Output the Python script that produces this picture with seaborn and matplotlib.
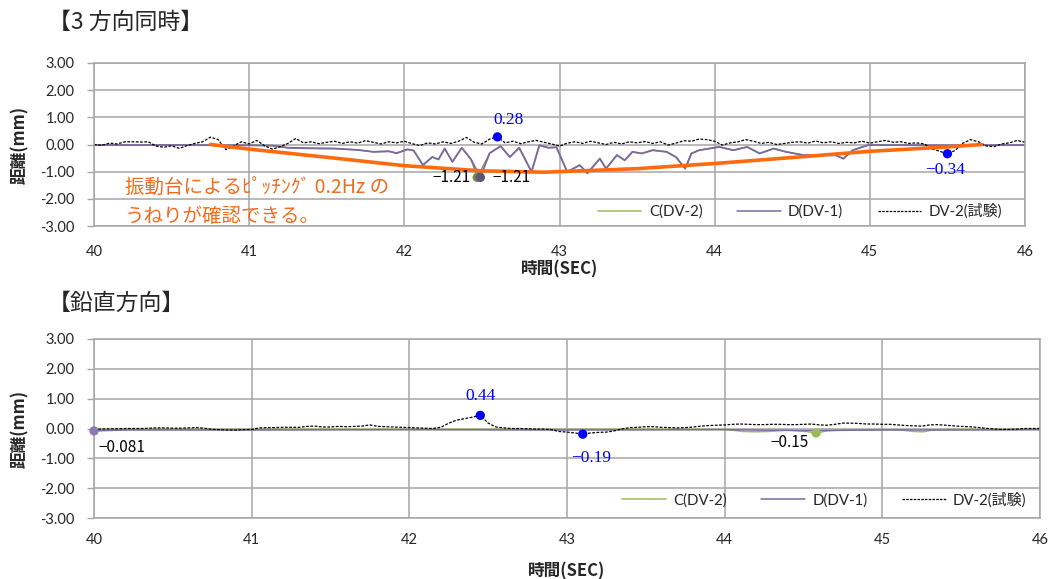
import numpy as np
import pandas as pd
import seaborn as sns
import matplotlib.pyplot as plt
from matplotlib.lines import Line2D

# ---------------- data ----------------
x_ticks = [40, 41, 42, 43, 44, 45, 46]
y_ticks = [-3, -2, -1, 0, 1, 2, 3]
y_tick_labels = ["-3.00", "-2.00", "-1.00", "0.00", "1.00", "2.00", "3.00"]

# sampling grid (0.05 s) for the DV-2(試験) records
time_grid = np.round(np.arange(40.0, 46.0001, 0.05), 2)

dv2_top = [0.00, -0.03, 0.05, 0.02, 0.10, 0.10, 0.09, 0.10, -0.06, -0.10,
           -0.05, -0.14, -0.04, 0.04, 0.10, 0.27, 0.18, -0.19, -0.05, 0.10,
           0.02, 0.15, -0.05, -0.17, -0.08, 0.04, 0.22, 0.06, 0.10, 0.03,
           0.08, 0.12, 0.04, 0.10, 0.05, 0.14, 0.08, 0.02, 0.10, 0.06,
           0.12, 0.03, -0.04, 0.06, 0.02, 0.10, 0.04, 0.12, 0.26, 0.08,
           0.02, 0.20, 0.28, 0.06, 0.12, 0.03, 0.10, 0.15, 0.08, 0.02,
           -0.06, 0.05, 0.10, 0.04, 0.12, 0.06, 0.00, 0.08, 0.02, 0.10,
           0.06, 0.11, 0.04, 0.10, -0.02, 0.05, 0.14, 0.12, 0.20, 0.18,
           0.12, -0.02, 0.06, 0.10, 0.18, 0.12, 0.04, 0.08, 0.00, 0.04,
           0.08, 0.10, 0.05, 0.13, 0.06, 0.10, 0.04, 0.08, 0.06, 0.12,
           0.05, 0.10, 0.15, 0.08, 0.10, 0.04, 0.06, 0.02, -0.16, -0.25,
           -0.34, -0.22, 0.05, 0.18, 0.10, -0.05, -0.08, 0.02, 0.06, 0.15,
           0.08]

d_top_t = [40.00, 40.50, 41.00, 41.15, 41.25, 41.40, 41.55, 41.70, 41.80, 41.90,
           41.95, 42.02, 42.06, 42.12, 42.18, 42.22, 42.26, 42.31, 42.37, 42.43,
           42.49, 42.55, 42.62, 42.68, 42.74, 42.82, 42.87, 42.93, 42.98, 43.05,
           43.13, 43.18, 43.26, 43.30, 43.37, 43.42, 43.47, 43.53, 43.60, 43.69,
           43.75, 43.81, 43.85, 43.90, 44.03, 44.12, 44.21, 44.29, 44.38, 44.46,
           44.57, 44.68, 44.78, 44.83, 44.89, 44.99, 45.50, 46.00]
d_top_v = [-0.02, -0.02, -0.03, -0.04, -0.12, -0.14, -0.15, -0.20, -0.27, -0.25,
           -0.32, -0.18, -0.22, -0.76, -0.46, -0.55, -0.15, -0.64, -0.12, -0.55,
           -1.21, -0.32, -0.06, -0.46, -0.12, -1.01, -0.03, -0.12, -0.10, -1.01,
           -0.76, -1.06, -0.52, -0.89, -0.39, -0.58, -0.27, -0.33, -0.21, -0.27,
           -0.46, -0.89, -0.33, -0.21, -0.09, -0.21, -0.09, -0.33, -0.15, -0.27,
           -0.39, -0.39, -0.40, -0.52, -0.21, -0.02, -0.03, -0.02]

c_top_t = [40.00, 40.50, 41.00, 41.15, 41.25, 41.40, 41.55, 41.70, 41.80, 41.90,
           41.95, 42.02, 42.06, 42.12, 42.18, 42.22, 42.26, 42.31, 42.37, 42.43,
           42.47, 42.55, 42.62, 42.68, 42.74, 42.82, 42.87, 42.93, 42.98, 43.05,
           43.13, 43.18, 43.26, 43.30, 43.37, 43.42, 43.47, 43.53, 43.60, 43.69,
           43.75, 43.81, 43.85, 43.90, 44.03, 44.12, 44.21, 44.29, 44.38, 44.46,
           44.57, 44.68, 44.78, 44.83, 44.89, 44.99, 45.50, 46.00]
c_top_v = [-0.02, -0.02, -0.03, -0.04, -0.12, -0.14, -0.15, -0.20, -0.27, -0.25,
           -0.32, -0.18, -0.22, -0.75, -0.46, -0.55, -0.15, -0.63, -0.12, -0.55,
           -1.21, -0.32, -0.06, -0.46, -0.12, -1.00, -0.03, -0.12, -0.10, -1.00,
           -0.76, -1.05, -0.52, -0.88, -0.39, -0.58, -0.27, -0.33, -0.21, -0.27,
           -0.46, -0.88, -0.33, -0.21, -0.09, -0.21, -0.09, -0.33, -0.15, -0.27,
           -0.39, -0.39, -0.40, -0.52, -0.21, -0.02, -0.03, -0.02]

# hand-drawn orange trend line (0.2 Hz pitching)
trend_t = [40.75, 41.0, 41.5, 42.0, 42.5, 42.9, 43.5, 44.0, 44.5, 45.0, 45.5, 45.72]
trend_v = [0.00, -0.17, -0.47, -0.78, -0.97, -1.02, -0.89, -0.70, -0.48, -0.25, -0.09, 0.00]

dv2_bot = [-0.02, -0.02, -0.01, -0.01, 0.00, 0.00, 0.00, 0.01, 0.02, 0.02,
           0.01, 0.01, 0.02, 0.03, 0.01, -0.03, -0.04, -0.05, -0.05, -0.04,
           -0.03, 0.02, 0.03, 0.03, 0.04, 0.04, 0.04, 0.07, 0.08, 0.05,
           0.05, 0.07, 0.06, 0.07, 0.08, 0.12, 0.07, 0.06, 0.05, 0.04,
           0.03, 0.02, 0.01, 0.00, 0.04, 0.18, 0.28, 0.33, 0.38, 0.44,
           0.18, 0.05, 0.02, 0.00, 0.00, -0.01, -0.02, -0.02, -0.04, -0.10,
           -0.12, -0.15, -0.19, -0.15, -0.13, -0.12, -0.08, -0.01, 0.03, 0.04,
           0.06, 0.06, 0.04, 0.03, 0.02, 0.03, 0.05, 0.08, 0.10, 0.11,
           0.12, 0.14, 0.15, 0.14, 0.13, 0.13, 0.14, 0.14, 0.13, 0.13,
           0.14, 0.15, 0.12, 0.11, 0.14, 0.18, 0.18, 0.17, 0.15, 0.15,
           0.14, 0.14, 0.12, 0.10, 0.09, 0.08, 0.12, 0.13, 0.11, 0.09,
           0.07, 0.06, 0.04, 0.01, -0.01, -0.03, -0.03, -0.02, 0.00, 0.00,
           0.00]

d_bot_t = [40.00, 40.20, 41.00, 42.00, 43.00, 44.00, 44.50, 45.00, 45.50, 46.00]
d_bot_v = [-0.081, -0.05, -0.05, -0.04, -0.05, -0.04, -0.07, -0.05, -0.05, -0.04]

c_bot_t = [40.00, 44.00, 44.12, 44.20, 44.28, 44.40, 44.50, 44.58, 44.65, 44.75,
           45.10, 45.20, 45.26, 45.32, 45.45, 46.00]
c_bot_v = [-0.03, -0.03, -0.10, -0.11, -0.10, -0.05, -0.09, -0.15, -0.08, -0.05,
           -0.04, -0.10, -0.11, -0.05, -0.03, -0.03]

series_names = ["C(DV-2)", "D(DV-1)", "DV-2(試験)"]

# ---------------- style ----------------
sns.set_theme(style="white")
plt.rcParams["font.family"] = ["Lato", "Noto Sans CJK JP", "DejaVu Sans"]
plt.rcParams["axes.unicode_minus"] = False

C_COL = "#9BBB59"
D_COL = "#7A6AA0"
BLUE = "#0000FF"
ORANGE = "#FF6A0D"
GRID = "#A6A6A6"
CJK = ["Noto Sans CJK JP", "DejaVu Sans"]

W, H = 1061, 579
fig = plt.figure(figsize=(W / 100, H / 100), dpi=100)
ax1 = fig.add_axes([94 / W, 1 - 226 / H, (1025 - 94) / W, (226 - 63) / H])
ax2 = fig.add_axes([94 / W, 1 - 518 / H, (1040 - 94) / W, (518 - 339) / H])


def style_axes(ax, xpad, xlabelpad):
    ax.set_xlim(40, 46)
    ax.set_ylim(-3, 3)
    ax.set_xticks(x_ticks)
    ax.set_xticklabels([str(v) for v in x_ticks])
    ax.set_yticks(y_ticks)
    ax.set_yticklabels(y_tick_labels)
    ax.grid(True, color=GRID, lw=1.1)
    ax.set_axisbelow(True)
    for s in ax.spines.values():
        s.set_color(GRID)
        s.set_linewidth(1.1)
    ax.tick_params(axis="y", length=5, width=1, color=GRID, direction="out",
                   pad=9, labelsize=10.5, left=True)
    ax.tick_params(axis="x", length=0, pad=xpad, labelsize=10.5)
    ax.set_xlabel("時間(SEC)", fontsize=12, fontweight="bold", family=CJK, labelpad=xlabelpad)
    ax.set_ylabel("距離(mm)", fontsize=12, fontweight="bold", family=CJK, labelpad=8)


def label(ax, x, y, txt, dx, dy, color, ha="center", serif=False):
    fam = ["Liberation Serif", "DejaVu Serif"] if serif else CJK
    size = 12.5 if serif else 11
    ax.annotate(txt, (x, y), xytext=(dx, dy), textcoords="offset points",
                ha=ha, va="center", color=color, fontsize=size, family=fam)


def fmt(v, d):
    return f"{v:.{d}f}".replace("-", "−")


# ---------------- top chart ----------------
sns.lineplot(x=c_top_t, y=c_top_v, ax=ax1, color="#8A8F5A", lw=1.0, label=series_names[0])
sns.lineplot(x=d_top_t, y=d_top_v, ax=ax1, color=D_COL, lw=1.3, label=series_names[1])
sns.lineplot(x=time_grid, y=dv2_top, ax=ax1, color="black", lw=0.9,
             ls=(0, (2.2, 1.2)), label=series_names[2])
sns.lineplot(x=trend_t, y=trend_v, ax=ax1, color=ORANGE, lw=2.6)

i_max = int(np.argmax(dv2_top)); i_min = int(np.argmin(dv2_top))
top_blue = pd.DataFrame({"t": [time_grid[i_max], time_grid[i_min]],
                         "v": [dv2_top[i_max], dv2_top[i_min]]})
sns.scatterplot(data=top_blue, x="t", y="v", ax=ax1, color=BLUE, s=45, edgecolor="none", zorder=5)
ic = int(np.argmin(c_top_v)); idd = int(np.argmin(d_top_v))
sns.scatterplot(x=[c_top_t[ic]], y=[c_top_v[ic]], ax=ax1, color="#6E8B3D", s=45, edgecolor="none", zorder=5)
sns.scatterplot(x=[d_top_t[idd]], y=[d_top_v[idd]], ax=ax1, color="#5E557A", s=45, edgecolor="none", zorder=5)

label(ax1, time_grid[i_max], dv2_top[i_max], fmt(dv2_top[i_max], 2), 8, 12, BLUE, serif=True)
label(ax1, time_grid[i_min], dv2_top[i_min], fmt(dv2_top[i_min], 2), -2, -12, BLUE, serif=True)
label(ax1, c_top_t[ic], c_top_v[ic], fmt(c_top_v[ic], 2), -5, 0, "black", ha="right")
label(ax1, d_top_t[idd], d_top_v[idd], fmt(d_top_v[idd], 2), 9, 0, "black", ha="left")

style_axes(ax1, xpad=14, xlabelpad=1)
h = [Line2D([], [], color=C_COL, lw=1.1), Line2D([], [], color=D_COL, lw=1.1),
     Line2D([], [], color="black", lw=0.9, ls=(0, (2, 1)))]
ax1.legend(h, series_names, ncol=3, frameon=False, loc="center right",
           bbox_to_anchor=(0.99, 0.09), fontsize=10.8, handlelength=2.9,
           columnspacing=2.3, handletextpad=0.5)

fig.text(125 / W, 1 - 188 / H, "振動台によるﾋﾟｯﾁﾝｸﾞ 0.2Hz の", color="#F26B1D",
         fontsize=14, family=CJK, va="center")
fig.text(125 / W, 1 - 216 / H, "うねりが確認できる。", color="#F26B1D",
         fontsize=14, family=CJK, va="center")

# ---------------- bottom chart ----------------
sns.lineplot(x=c_bot_t, y=c_bot_v, ax=ax2, color=C_COL, lw=1.1, label=series_names[0])
sns.lineplot(x=d_bot_t, y=d_bot_v, ax=ax2, color=D_COL, lw=1.1, label=series_names[1])
sns.lineplot(x=time_grid, y=dv2_bot, ax=ax2, color="black", lw=0.9,
             ls=(0, (2.2, 1.2)), label=series_names[2])

j_max = int(np.argmax(dv2_bot)); j_min = int(np.argmin(dv2_bot))
bot_blue = pd.DataFrame({"t": [time_grid[j_max], time_grid[j_min]],
                         "v": [dv2_bot[j_max], dv2_bot[j_min]]})
sns.scatterplot(data=bot_blue, x="t", y="v", ax=ax2, color=BLUE, s=45, edgecolor="none", zorder=5)
jc = int(np.argmin(c_bot_v)); jd = int(np.argmin(d_bot_v))
sns.scatterplot(x=[c_bot_t[jc]], y=[c_bot_v[jc]], ax=ax2, color=C_COL, s=45, edgecolor="none", zorder=5)
sns.scatterplot(x=[d_bot_t[jd]], y=[d_bot_v[jd]], ax=ax2, color="#8C7BAE", s=45, edgecolor="none",
                zorder=5, clip_on=False)

label(ax2, time_grid[j_max], dv2_bot[j_max], fmt(dv2_bot[j_max], 2), 0, 14, BLUE, serif=True)
label(ax2, time_grid[j_min], dv2_bot[j_min], fmt(dv2_bot[j_min], 2), 6, -17, BLUE, serif=True)
label(ax2, c_bot_t[jc], c_bot_v[jc], fmt(c_bot_v[jc], 2), -19, -6.5, "black")
label(ax2, d_bot_t[jd], d_bot_v[jd], fmt(d_bot_v[jd], 3), 3, -12, "black", ha="left")

style_axes(ax2, xpad=11, xlabelpad=11)
ax2.legend(h, series_names, ncol=3, frameon=False, loc="center right",
           bbox_to_anchor=(1.0, 0.10), fontsize=10.8, handlelength=2.9,
           columnspacing=2.3, handletextpad=0.5)

fig.text(48 / W, 1 - 22 / H, "【3 方向同時】", fontsize=16.5, family=CJK, va="center")
fig.text(48 / W, 1 - 303 / H, "【鉛直方向】", fontsize=16.5, family=CJK, va="center")

fig.savefig("out.png", dpi=100)
